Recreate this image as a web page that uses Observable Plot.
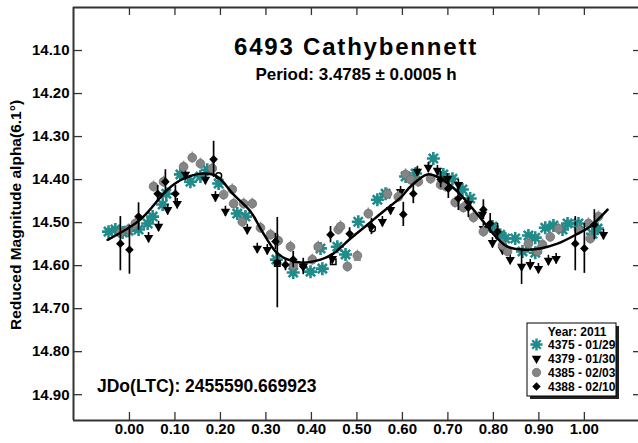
<!DOCTYPE html>
<html><head><meta charset="utf-8">
<script src="https://cdn.jsdelivr.net/npm/d3@7"></script>
<script src="https://cdn.jsdelivr.net/npm/@observablehq/plot@0.6"></script>
<style>body{margin:0;background:#fff} #chart{width:638px;height:443px}</style>
</head><body><div id="chart"></div>
<script>
const title = "6493 Cathybennett";
const subtitle = "Period: 3.4785 \u00b1 0.0005 h";
const yLabel = "Reduced Magnitude alpha(6.1\u00b0)";
const epochText = "JDo(LTC): 2455590.669923";
const legendTitle = "Year: 2011";
const seriesNames = ["4375 - 01/29", "4379 - 01/30", "4385 - 02/03", "4388 - 02/10"];
const xTicks = [0, 0.1, 0.2, 0.3, 0.4, 0.5, 0.6, 0.7, 0.8, 0.9, 1.0];
const yTicks = [14.1, 14.2, 14.3, 14.4, 14.5, 14.6, 14.7, 14.8, 14.9];
const xDomain = [-0.123, 1.119];
const yDomain = [14.0, 14.96];

// session 4375 (01/29): [phase, mag]
const s4375 = [[-0.046,14.521],[-0.031,14.516],[-0.015,14.523],[-0.002,14.519],[0.020,14.516],[0.040,14.502],[0.051,14.486],[0.073,14.458],[0.081,14.433],[0.112,14.388],[0.134,14.405],[0.156,14.393],[0.171,14.377],[0.196,14.409],[0.237,14.479],[0.255,14.486],[0.323,14.586],[0.360,14.616],[0.398,14.614],[0.424,14.607],[0.420,14.560],[0.457,14.556],[0.475,14.574],[0.503,14.498],[0.545,14.447],[0.563,14.433],[0.607,14.393],[0.629,14.386],[0.668,14.351],[0.690,14.388],[0.710,14.398],[0.732,14.423],[0.749,14.444],[0.798,14.509],[0.815,14.528],[0.826,14.537],[0.848,14.537],[0.864,14.567],[0.877,14.530],[0.892,14.535],[0.892,14.570],[0.914,14.512],[0.932,14.507],[0.952,14.516],[0.963,14.502],[0.987,14.502],[1.018,14.526],[1.029,14.514]];
// session 4379 (01/30): [phase, mag, err]
const s4379 = [[0.042,14.535,0.012],[0.064,14.509,0.012],[0.084,14.470,0.012],[0.105,14.456,0.012],[0.123,14.388,0.015],[0.167,14.400,0.012],[0.189,14.440,0.012],[0.211,14.474,0.012],[0.259,14.516,0.012],[0.281,14.560,0.012],[0.303,14.563,0.012],[0.382,14.602,0.012],[0.446,14.584,0.012],[0.556,14.498,0.012],[0.574,14.470,0.012],[0.596,14.428,0.012],[0.633,14.381,0.012],[0.657,14.372,0.012],[0.677,14.379,0.012],[0.699,14.398,0.012],[0.723,14.412,0.012],[0.745,14.456,0.012],[0.776,14.481,0.012],[0.778,14.514,0.012],[0.798,14.547,0.012],[0.820,14.563,0.012],[0.837,14.586,0.012],[0.862,14.602,0.042],[0.881,14.598,0.012],[0.899,14.607,0.012],[0.921,14.588,0.012],[0.938,14.584,0.012],[1.042,14.528,0.012]];
// session 4385 (02/03): [phase, mag]
const s4385 = [[-0.020,14.523],[-0.002,14.516],[0.013,14.502],[0.053,14.416],[0.075,14.405],[0.119,14.370],[0.138,14.349],[0.156,14.363],[0.182,14.374],[0.207,14.435],[0.226,14.423],[0.229,14.456],[0.251,14.456],[0.270,14.456],[0.248,14.498],[0.288,14.512],[0.310,14.528],[0.327,14.542],[0.354,14.556],[0.360,14.600],[0.402,14.586],[0.415,14.556],[0.459,14.516],[0.464,14.509],[0.479,14.602],[0.501,14.577],[0.525,14.479],[0.567,14.433],[0.591,14.440],[0.607,14.388],[0.618,14.400],[0.635,14.405],[0.662,14.398],[0.684,14.412],[0.695,14.416],[0.716,14.453],[0.734,14.465],[0.756,14.488],[0.778,14.521],[0.820,14.553],[0.831,14.567],[0.877,14.549],[0.897,14.567],[0.908,14.551],[0.925,14.533],[0.943,14.514],[0.987,14.516],[1.009,14.502],[1.013,14.537],[1.031,14.486]];
// session 4388 (02/10): [phase, mag, err]
const s4388 = [[-0.020,14.549,0.063],[0.000,14.563,0.057],[0.020,14.486,0.032],[0.062,14.433,0.019],[0.079,14.405,0.028],[0.101,14.433,0.019],[0.185,14.353,0.042],[0.321,14.544,0.019],[0.325,14.593,0.105],[0.343,14.598,0.014],[0.360,14.586,0.019],[0.382,14.602,0.019],[0.442,14.528,0.019],[0.484,14.526,0.014],[0.532,14.509,0.019],[0.602,14.481,0.028],[0.624,14.433,0.023],[0.684,14.400,0.019],[0.701,14.421,0.023],[0.723,14.444,0.028],[0.745,14.465,0.023],[0.778,14.470,0.023],[0.793,14.502,0.023],[0.809,14.521,0.019],[0.980,14.549,0.063],[1.000,14.560,0.058],[1.022,14.505,0.035]];
// Fourier fit curve
const fitPhase = [-0.048,0.024,0.084,0.119,0.163,0.193,0.229,0.266,0.292,0.321,0.343,0.376,0.420,0.448,0.486,0.523,0.558,0.596,0.618,0.655,0.684,0.721,0.765,0.809,0.831,0.866,0.903,0.941,0.985,1.013,1.051];
const fitMag = [14.540,14.493,14.423,14.398,14.386,14.393,14.435,14.474,14.521,14.567,14.584,14.593,14.586,14.572,14.537,14.505,14.474,14.442,14.416,14.388,14.398,14.428,14.481,14.537,14.556,14.563,14.560,14.549,14.526,14.509,14.470];
// session start/end markers: [phase, mag, shape, colour]
const markers = [[0.196,14.391,"circle","black"],[0.534,14.514,"circle","black"],[0.207,14.433,"circle","#8c8c8c"],[0.325,14.595,"square","black"],[0.448,14.591,"square","black"],[0.501,14.581,"square","#8c8c8c"],[0.978,14.502,"square","#208b8b"]];

const teal = "#208b8b";
const grayFill = "#858585";
const tealErr = 0.008, grayErr = 0.013;

const asterisk8 = {draw(ctx, size) {
  const r = Math.sqrt(size / Math.PI);
  for (let k = 0; k < 4; k++) {
    const a = k * Math.PI / 4, c = Math.cos(a) * r, s = Math.sin(a) * r;
    ctx.moveTo(-c, -s); ctx.lineTo(c, s);
  }
}};

const d1 = s4375.map(([p, m]) => ({p, m, e: tealErr}));
const d2 = s4379.map(([p, m, e]) => ({p, m, e}));
const d3s = s4385.map(([p, m]) => ({p, m, e: grayErr}));
const d4 = s4388.map(([p, m, e]) => ({p, m, e}));
const fit = fitPhase.map((p, i) => ({p, m: fitMag[i]}));
const mk = markers.map(([p, m, shape, color]) => ({p, m, shape, color}));

const W = 638, H = 443, ML = 73, MR = 0, MT = 7, MB = 23;
const PW = W - ML - MR, PH = H - MT - MB;
const frameColor = "#333";
const fmt2 = d => d.toFixed(2);

const err = (data, stroke, sw) => Plot.ruleX(data, {x: "p", y1: d => d.m - d.e, y2: d => d.m + d.e, stroke, strokeWidth: sw});

const chart = Plot.plot({
  width: W, height: H,
  marginLeft: ML, marginRight: MR, marginTop: MT, marginBottom: MB,
  style: {fontFamily: "'Liberation Sans', Arial, sans-serif", fontWeight: "bold", color: "black", background: "white", overflow: "visible"},
  x: {domain: xDomain},
  y: {domain: yDomain, reverse: true},
  marks: [
    Plot.ruleY([yDomain[0], yDomain[1]], {stroke: frameColor, strokeWidth: 2}),
    Plot.ruleX([xDomain[0]], {stroke: frameColor, strokeWidth: 2}),
    Plot.tickY(yTicks, {y: d => d, insetRight: PW - 9, stroke: frameColor, strokeWidth: 1.3}),
    Plot.tickY(yTicks, {y: d => d, insetLeft: PW - 5, stroke: frameColor, strokeWidth: 1.3}),
    Plot.tickX(xTicks, {x: d => d, insetBottom: PH - 8, stroke: frameColor, strokeWidth: 1.3}),
    Plot.tickX(xTicks, {x: d => d, insetTop: PH - 8, stroke: frameColor, strokeWidth: 1.3}),
    Plot.axisY(yTicks, {tickSize: 0, tickPadding: 4, tickFormat: fmt2, fontSize: 15, fontWeight: "bold", label: null}),
    Plot.axisX(xTicks, {tickSize: 0, tickPadding: 3, tickFormat: fmt2, fontSize: 15, fontWeight: "bold", label: null}),
    err(d1, teal, 1.5),
    Plot.dot(d1, {x: "p", y: "m", symbol: asterisk8, r: 6.5, fill: "none", stroke: teal, strokeWidth: 2.6}),
    err(d2, "black", 1.6),
    Plot.dot(d2, {x: "p", y: "m", symbol: "triangle", rotate: 180, r: 3.5, fill: "black", stroke: "none"}),
    err(d3s, "#9a9a9a", 1.6),
    Plot.dot(d3s, {x: "p", y: "m", symbol: "circle", r: 4.4, fill: grayFill, stroke: "#6a6a6a", strokeWidth: 0.7}),
    err(d4, "black", 1.7),
    Plot.dot(d4, {x: "p", y: "m", symbol: "diamond2", r: 3.9, fill: "black", stroke: "none"}),
    Plot.line(fit, {x: "p", y: "m", curve: "catmull-rom", stroke: "black", strokeWidth: 2.5}),
    Plot.dot(mk, {x: "p", y: "m", symbol: "shape", r: d => d.shape === "circle" ? 6.8 : 7.2, fill: "none", stroke: "color", strokeWidth: 1.5}),
    Plot.text([title], {text: d => d, frameAnchor: "top", textAnchor: "middle", dy: 30.5, fontSize: 24, fontWeight: "bold"}),
    Plot.text([subtitle], {text: d => d, frameAnchor: "top", textAnchor: "middle", dy: 60, fontSize: 17, fontWeight: "bold"}),
    Plot.text([epochText], {text: d => d, frameAnchor: "bottom-left", textAnchor: "start", dx: 23.5, dy: -28.5, fontSize: 17.5, fontWeight: "bold"}),
    Plot.text([yLabel], {text: d => d, frameAnchor: "left", textAnchor: "middle", rotate: -90, dx: -57, dy: 1, fontSize: 15.5, fontWeight: "bold"})
  ]
});

const svgEl = chart.tagName.toLowerCase() === "svg" ? chart : chart.querySelector("svg");
d3.select(svgEl).selectAll("text").filter(function() { return this.textContent === title; })
  .attr("letter-spacing", "1.8px");

// legend box
const lg = d3.select(svgEl).append("g")
  .attr("font-family", "'Liberation Sans', Arial, sans-serif")
  .attr("font-weight", "bold").attr("font-size", 12).attr("text-anchor", "start").attr("fill", "black");
const bx = 527, by = 323, bw = 89, bh = 73;
lg.append("rect").attr("x", bx + 3).attr("y", by + 3).attr("width", bw).attr("height", bh).attr("fill", "#222");
lg.append("rect").attr("x", bx).attr("y", by).attr("width", bw).attr("height", bh).attr("fill", "white").attr("stroke", "black").attr("stroke-width", 1);
lg.append("text").attr("x", bx + 50).attr("y", by + 12.5).attr("text-anchor", "middle").text(legendTitle);
const legSyms = [
  {sym: asterisk8, size: Math.PI * 36, fill: "none", stroke: teal, sw: 2.4, rot: 0},
  {sym: d3.symbolTriangle, size: Math.PI * 3.5 * 3.5, fill: "black", stroke: "none", sw: 0, rot: 180},
  {sym: d3.symbolCircle, size: Math.PI * 4.2 * 4.2, fill: grayFill, stroke: "#6a6a6a", sw: 0.7, rot: 0},
  {sym: d3.symbolDiamond2, size: Math.PI * 3.8 * 3.8, fill: "black", stroke: "none", sw: 0, rot: 0}
];
seriesNames.forEach((name, i) => {
  const yb = by + 26 + i * 14;
  const s = legSyms[i];
  lg.append("path").attr("d", d3.symbol(s.sym, s.size)())
    .attr("transform", `translate(${bx + 9.5},${yb - 4.5}) rotate(${s.rot})`)
    .attr("fill", s.fill).attr("stroke", s.stroke).attr("stroke-width", s.sw);
  lg.append("text").attr("x", bx + 21).attr("y", yb).attr("text-anchor", "start").text(name);
});

document.getElementById("chart").appendChild(chart);
</script>
</body></html>
